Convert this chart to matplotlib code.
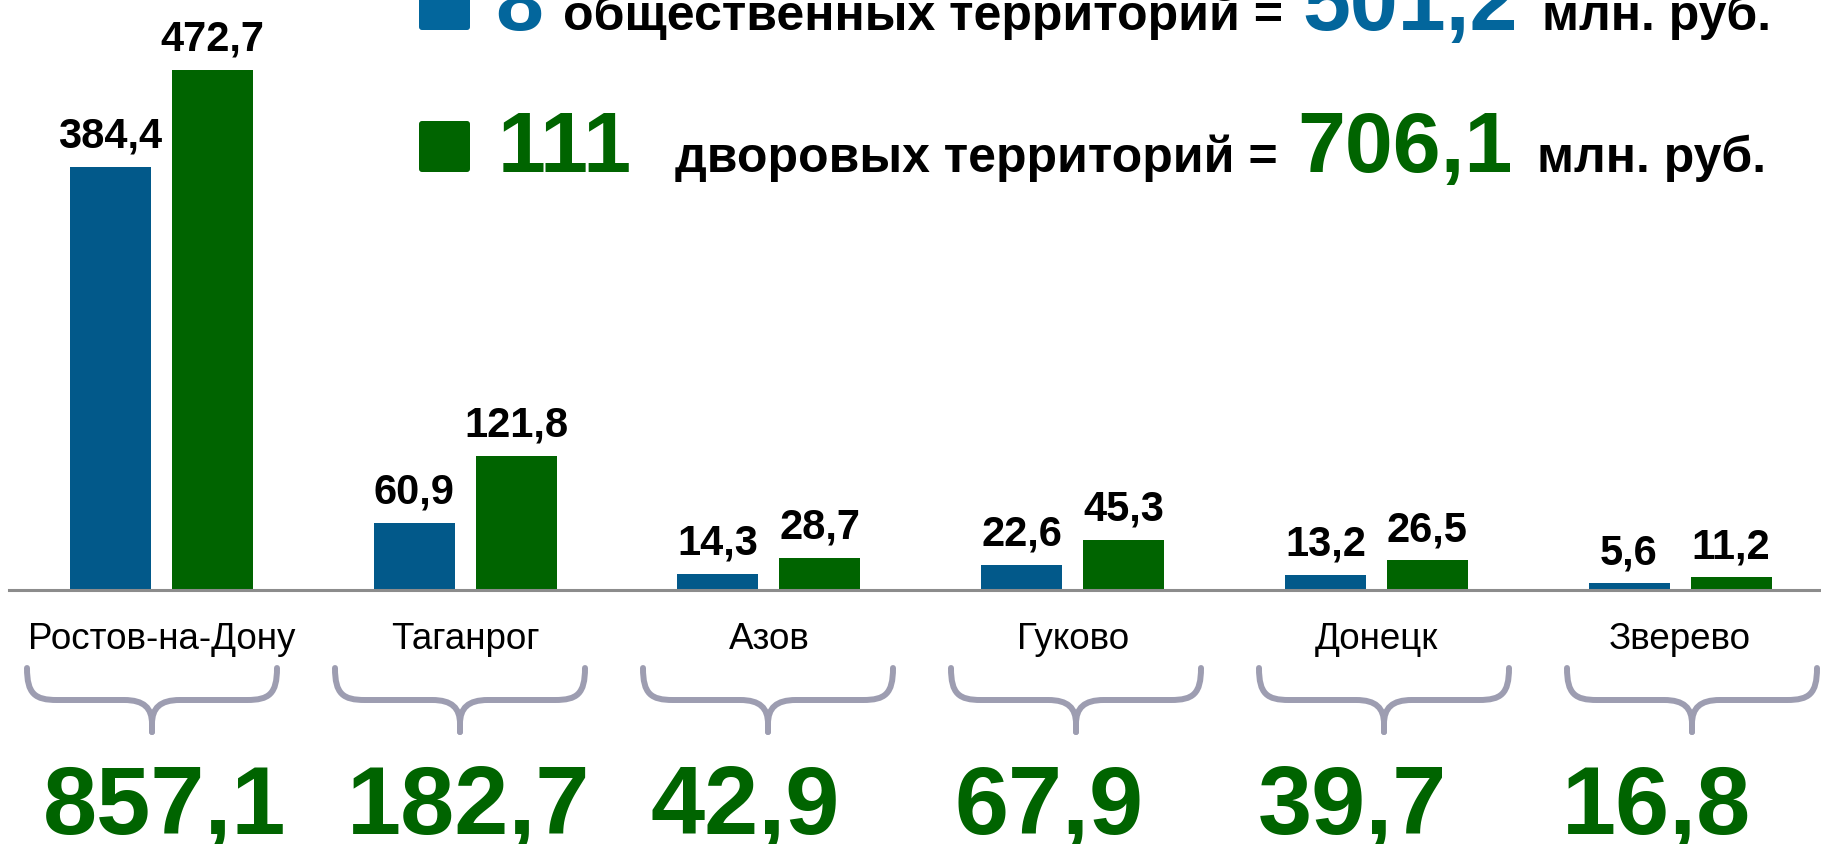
import numpy as np
import matplotlib
matplotlib.use("Agg")
import matplotlib.pyplot as plt
from matplotlib.path import Path
from matplotlib.patches import PathPatch, FancyBboxPatch
from matplotlib import transforms

plt.rcParams['font.family'] = ['Liberation Sans', 'DejaVu Sans']

# data
cities = ["Ростов-на-Дону", "Таганрог", "Азов", "Гуково", "Донецк", "Зверево"]
public_vals = [384.4, 60.9, 14.3, 22.6, 13.2, 5.6]
yard_vals = [472.7, 121.8, 28.7, 45.3, 26.5, 11.2]
totals = [857.1, 182.7, 42.9, 67.9, 39.7, 16.8]

public_count = 8
public_sum = 501.2
yard_count = 111
yard_sum = 706.1

BLUE = "#02598a"
BLUE_LEG = "#03669c"
GREEN = "#006400"
BRACE = "#9d9db1"


def fmt(v):
    return f"{v:.1f}".replace(".", ",")


W, H = 1821, 845
fig = plt.figure(figsize=(W / 100, H / 100), dpi=100)

# overlay in pixel coords (y downwards) for legend, braces, labels
ov = fig.add_axes([0, 0, 1, 1])
ov.set_xlim(0, W)
ov.set_ylim(H, 0)
ov.axis('off')

# main bar axes
base_px = 590.5
px_per_unit = 1.1
ymax = 500
ax = fig.add_axes([9 / W, (H - base_px) / H, 1 - 9 / W, ymax * px_per_unit / H])
ax.set_facecolor('none')

x = np.arange(len(cities))
off = 0.168
bw = 0.267
ax.bar(x - off, public_vals, bw, color=BLUE, zorder=2)
ax.bar(x + off, yard_vals, bw, color=GREEN, zorder=2)

for xi, v in zip(x - off, public_vals):
    ax.annotate(fmt(v), (xi, v), xytext=(0, 14.4), textcoords='offset points',
                ha='center', va='baseline', fontsize=30, fontweight='bold')
for xi, v in zip(x + off, yard_vals):
    ax.annotate(fmt(v), (xi, v), xytext=(0, 14.4), textcoords='offset points',
                ha='center', va='baseline', fontsize=30, fontweight='bold')

ax.set_xlim(-0.502, 5.464)
ax.set_ylim(0, ymax)
for s in ['top', 'right', 'left']:
    ax.spines[s].set_visible(False)
ax.spines['bottom'].set_color('#8c8c8c')
ax.spines['bottom'].set_linewidth(2.2)
ax.set_xticks([])
ax.set_yticks([])

# x from bar axes, y in pixels
trans = transforms.blended_transform_factory(ax.transData, ov.transData)

for xi, name, tot in zip(x, cities, totals):
    ov.text(xi, 649, name, transform=trans, ha='center', va='baseline', fontsize=26.5)
    ov.text(xi - 0.39, 834, fmt(tot), transform=trans, ha='left', va='baseline',
            fontsize=70, fontweight='bold', color=GREEN)

# curly braces
y0, ym, yt = 669, 701, 733
w = 125
for i in range(len(cities)):
    c = 152 + 308 * i
    for sgn in (-1, 1):
        e = c + sgn * w
        verts = [(e, y0),
                 (e, y0 + 26), (e - sgn * 8, ym), (e - sgn * 30, ym),
                 (c + sgn * 28, ym),
                 (c + sgn * 8, ym), (c, ym + 8), (c, ym + 24),
                 (c, yt)]
        codes = [Path.MOVETO,
                 Path.CURVE4, Path.CURVE4, Path.CURVE4,
                 Path.LINETO,
                 Path.CURVE4, Path.CURVE4, Path.CURVE4,
                 Path.LINETO]
        ov.add_patch(PathPatch(Path(verts, codes), fill=False, edgecolor=BRACE,
                               lw=4.3, capstyle='round', joinstyle='round'))

# legend rows
rows = [
    (30, BLUE_LEG, public_count, "общественных территорий =", public_sum, 495, 1283, 1302, 1542),
    (172, GREEN, yard_count, "дворовых территорий =", yard_sum, 498, 1278, 1297, 1537),
]
for yb, col, cnt, label, total, xc, xl, xs, xu in rows:
    ov.add_patch(FancyBboxPatch((419, yb - 50), 51, 51,
                                boxstyle="round,pad=0,rounding_size=3",
                                facecolor=col, edgecolor='none'))
    ov.text(xc, yb, str(cnt), ha='left', va='baseline', fontsize=62,
            fontweight='bold', color=col)
    ov.text(xl, yb, label, ha='right', va='baseline', fontsize=36, fontweight='bold')
    ov.text(xs, yb, fmt(total), ha='left', va='baseline', fontsize=62,
            fontweight='bold', color=col)
    ov.text(xu, yb, "млн. руб.", ha='left', va='baseline', fontsize=36, fontweight='bold')

fig.savefig("out.png", dpi=100, facecolor='white')
